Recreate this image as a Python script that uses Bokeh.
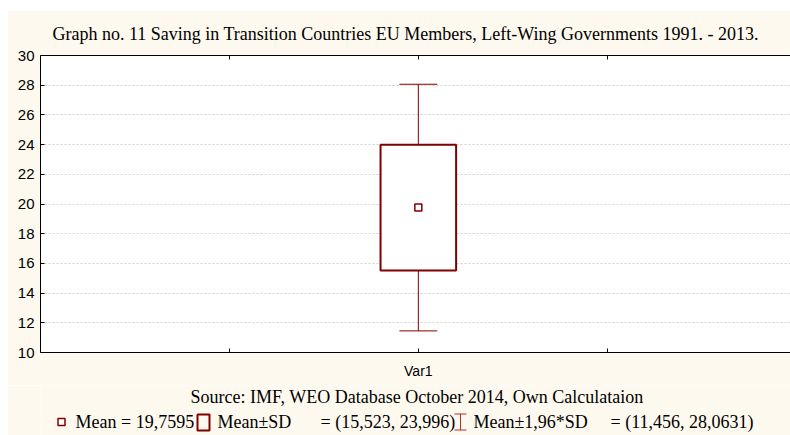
from bokeh.plotting import figure
from bokeh.models import Range1d, FixedTicker, LinearAxis, Spacer, Label
from bokeh.layouts import column, row
from bokeh.embed import file_html
from bokeh.resources import INLINE

# ---- data ----
categories = ["Var1"]
cat_pos = [2]
means = [19.7595]
sd_low = [15.523]
sd_high = [23.996]
ci_low = [11.456]
ci_high = [28.0631]
y_ticks = list(range(10, 31, 2))
x_ticks = [1, 2, 3]

title_text = "Graph no. 11 Saving in Transition Countries EU Members, Left-Wing Governments 1991. - 2013."
source_text = "Source: IMF, WEO Database October 2014, Own Calculataion"

RED = "#800000"
CREAM = "#FEF9EF"
SERIF = "Liberation Serif"
SANS = "Liberation Sans"


def fmt(v):
    return str(v).replace(".", ",")


W = 783
TOP_GAP = 10

# ---- main plot ----
p = figure(width=W, height=385 - TOP_GAP, x_range=Range1d(0, 3.97), y_range=Range1d(10, 30),
           output_backend="svg", toolbar_location=None, title=title_text,
           min_border_left=33, min_border_right=0, min_border_top=55 - TOP_GAP,
           min_border_bottom=33)
p.background_fill_color = "white"
p.border_fill_color = CREAM
p.outline_line_color = None

p.title.text_font = SERIF
p.title.text_font_size = "18px"
p.title.text_font_style = "normal"
p.title.text_color = "black"
p.title.align = "left"
p.title.offset = 12
p.title.standoff = 23

p.xgrid.visible = False
p.ygrid.grid_line_color = "#d0d0d0"
p.ygrid.grid_line_dash = "2 2"
p.ygrid.ticker = FixedTicker(ticks=y_ticks)

xa = p.xaxis[0]
xa.ticker = FixedTicker(ticks=x_ticks)
xa.major_label_overrides = {1: "", 2: categories[0], 3: ""}
xa.major_tick_in = 4
xa.major_tick_out = 0
xa.minor_tick_line_color = None
xa.axis_line_color = "black"
xa.major_tick_line_color = "black"
xa.major_label_text_font = SANS
xa.major_label_text_font_size = "14px"
xa.major_label_text_color = "black"
xa.major_label_standoff = 10

ya = p.yaxis[0]
ya.ticker = FixedTicker(ticks=y_ticks)
ya.major_tick_in = 4
ya.major_tick_out = 0
ya.minor_tick_line_color = None
ya.axis_line_color = "black"
ya.major_tick_line_color = "black"
ya.major_label_text_font = SANS
ya.major_label_text_font_size = "15px"
ya.major_label_text_color = "black"
ya.major_label_standoff = 6

top = LinearAxis(ticker=FixedTicker(ticks=x_ticks))
top.major_label_overrides = {1: "", 2: "", 3: ""}
top.major_label_text_font_size = "0px"
top.major_tick_in = 4
top.major_tick_out = 0
top.minor_tick_line_color = None
top.axis_line_color = "black"
top.major_label_standoff = 0
p.add_layout(top, "above")

# whiskers (mean +- 1.96 SD)
p.segment(x0=cat_pos, y0=sd_high, x1=cat_pos, y1=ci_high, line_color=RED, line_width=1)
p.segment(x0=cat_pos, y0=sd_low, x1=cat_pos, y1=ci_low, line_color=RED, line_width=1)
p.segment(x0=[c - 0.1 for c in cat_pos], y0=ci_high, x1=[c + 0.1 for c in cat_pos], y1=ci_high,
          line_color=RED, line_width=1)
p.segment(x0=[c - 0.1 for c in cat_pos], y0=ci_low, x1=[c + 0.1 for c in cat_pos], y1=ci_low,
          line_color=RED, line_width=1)
# box (mean +- SD)
p.quad(left=[c - 0.2 for c in cat_pos], right=[c + 0.2 for c in cat_pos],
       bottom=sd_low, top=sd_high, fill_color="white", line_color=RED, line_width=2)
# mean
p.scatter(x=cat_pos, y=means, marker="square", size=7, fill_color="white",
          line_color=RED, line_width=1.5)

# ---- footer (source + legend); its frame is aligned with the main frame (page x 40..790) ----
f = figure(width=W, height=50, x_range=Range1d(40, 790), y_range=Range1d(435, 385),
           output_backend="svg", toolbar_location=None,
           x_axis_location=None, y_axis_location=None,
           min_border_left=33, min_border_right=0, min_border_top=0, min_border_bottom=0)
f.background_fill_color = CREAM
f.border_fill_color = CREAM
f.outline_line_color = None
f.xgrid.visible = False
f.ygrid.visible = False

f.add_layout(Label(x=416.5, y=396, text=source_text, text_font=SERIF, text_font_size="18px",
                   text_align="center", text_baseline="alphabetic", text_color="black"))

f.scatter(x=[61], y=[421.5], marker="square", size=7, fill_color="white",
          line_color=RED, line_width=1.5)
f.rect(x=[203], y=[422], width=12, height=16, fill_color=None, line_color=RED, line_width=2)
f.segment(x0=[460, 454, 454], y0=[413.5, 413.5, 429.5], x1=[460, 466, 466], y1=[429.5, 413.5, 429.5],
          line_color="#b03030", line_width=1)

leg_y = 421
leg_texts = [
    f"Mean = {fmt(means[0])}",
    "Mean\u00b1SD",
    f"= ({fmt(sd_low[0])}, {fmt(sd_high[0])})",
    "Mean\u00b11,96*SD",
    f"= ({fmt(ci_low[0])}, {fmt(ci_high[0])})",
]
leg_x = [75, 217, 320, 473, 610]
for tx, tt in zip(leg_x, leg_texts):
    f.add_layout(Label(x=tx, y=leg_y, text=tt, text_font=SERIF, text_font_size="18px",
                       text_align="left", text_baseline="alphabetic", text_color="black"))

layout = column(Spacer(height=TOP_GAP, width=790),
                row(Spacer(width=7, height=435 - TOP_GAP), column(p, f)))

open("out.html", "w").write(file_html(layout, INLINE))
